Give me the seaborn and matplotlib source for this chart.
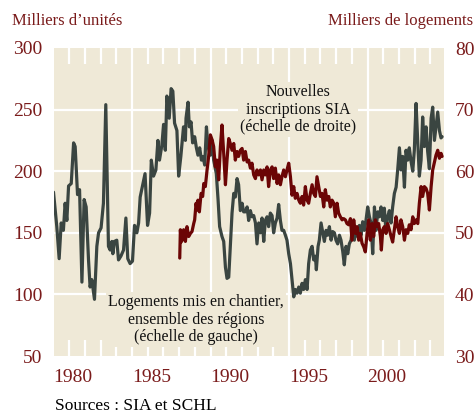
import numpy as np
import pandas as pd
import seaborn as sns
import matplotlib.pyplot as plt

# Logements mis en chantier, ensemble des régions (milliers d'unités, échelle de gauche)
starts_year = [
    1980.00, 1980.21, 1980.36, 1980.49, 1980.63, 1980.74, 1980.85, 1980.96, 1981.13, 1981.28,
    1981.38, 1981.53, 1981.66, 1981.81, 1981.95, 1982.08, 1982.23, 1982.33, 1982.44, 1982.61,
    1982.76, 1982.87, 1983.03, 1983.18, 1983.33, 1983.50, 1983.61, 1983.72, 1983.78, 1983.88,
    1984.03, 1984.14, 1984.29, 1984.46, 1984.61, 1984.73, 1984.88, 1985.03, 1985.16, 1985.31,
    1985.42, 1985.52, 1985.67, 1985.83, 1985.99, 1986.12, 1986.23, 1986.37, 1986.52, 1986.65,
    1986.75, 1986.90, 1987.01, 1987.12, 1987.22, 1987.37, 1987.49, 1987.60, 1987.71, 1987.86,
    1987.97, 1988.11, 1988.28, 1988.40, 1988.44, 1988.57, 1988.65, 1988.76, 1988.86, 1988.99,
    1989.10, 1989.20, 1989.31, 1989.42, 1989.52, 1989.63, 1989.74, 1989.84, 1989.99, 1990.10,
    1990.20, 1990.37, 1990.48, 1990.58, 1990.73, 1990.84, 1990.95, 1991.05, 1991.16, 1991.26,
    1991.37, 1991.48, 1991.58, 1991.69, 1991.79, 1991.90, 1992.01, 1992.11, 1992.22, 1992.33,
    1992.43, 1992.54, 1992.64, 1992.75, 1992.86, 1992.96, 1993.07, 1993.18, 1993.28, 1993.39,
    1993.49, 1993.60, 1993.70, 1993.81, 1993.92, 1994.02, 1994.13, 1994.24, 1994.34, 1994.45,
    1994.55, 1994.66, 1994.77, 1994.87, 1994.98, 1995.09, 1995.19, 1995.30, 1995.40, 1995.51,
    1995.62, 1995.72, 1995.83, 1995.93, 1996.04, 1996.15, 1996.25, 1996.36, 1996.47, 1996.57,
    1996.68, 1996.74, 1996.85, 1996.93, 1997.04, 1997.14, 1997.25, 1997.36, 1997.46, 1997.57,
    1997.68, 1997.78, 1997.89, 1997.99, 1998.10, 1998.21, 1998.31, 1998.42, 1998.52, 1998.63,
    1998.74, 1998.84, 1998.95, 1999.05, 1999.16, 1999.27, 1999.37, 1999.48, 1999.59, 1999.69,
    1999.80, 1999.90, 2000.01, 2000.12, 2000.22, 2000.33, 2000.44, 2000.54, 2000.65, 2000.75,
    2000.86, 2000.97, 2001.07, 2001.18, 2001.28, 2001.39, 2001.50, 2001.60, 2001.71, 2001.82,
    2001.92, 2002.03, 2002.13, 2002.24, 2002.35, 2002.45, 2002.56, 2002.66, 2002.77, 2002.88,
    2002.98, 2003.09, 2003.20, 2003.30, 2003.41, 2003.51, 2003.62, 2003.73, 2003.83, 2003.94,
    2004.05, 2004.15, 2004.26, 2004.36, 2004.47, 2004.58, 2004.68, 2004.75,
]
starts_value = [
    183, 155, 129, 158, 152, 174, 160, 188, 190, 223,
    220, 181, 185, 110, 177, 171, 128, 106, 112, 96,
    139, 150, 154, 174, 254, 139, 136, 143, 133, 143,
    144, 128, 131, 136, 162, 129, 125, 127, 156, 150,
    158, 179, 188, 198, 156, 166, 209, 196, 201, 225,
    209, 221, 238, 217, 261, 243, 267, 265, 239, 233,
    196, 212, 236, 225, 243, 256, 236, 240, 223, 228,
    219, 213, 219, 209, 212, 205, 236, 220, 213, 225,
    209, 198, 177, 155, 147, 143, 122, 113, 114, 139,
    166, 182, 179, 194, 189, 168, 174, 167, 167, 171,
    160, 168, 163, 164, 158, 141, 158, 150, 162, 143,
    160, 163, 155, 166, 164, 150, 158, 162, 173, 160,
    152, 152, 148, 144, 133, 125, 112, 98, 104, 101,
    106, 101, 109, 104, 112, 104, 125, 136, 139, 128,
    131, 120, 139, 144, 158, 151, 143, 152, 148, 155,
    144, 151, 150, 144, 141, 148, 144, 135, 124, 139,
    133, 141, 144, 155, 144, 154, 147, 156, 148, 159,
    152, 160, 171, 163, 158, 133, 171, 152, 167, 163,
    171, 160, 170, 150, 163, 168, 158, 171, 182, 187,
    201, 219, 201, 212, 187, 217, 209, 219, 208, 200,
    217, 255, 223, 196, 209, 244, 220, 236, 216, 202,
    243, 252, 225, 236, 248, 233, 227, 228,
]

# Nouvelles inscriptions SIA (milliers de logements, échelle de droite)
listings_year = [
    1988.04, 1988.08, 1988.13, 1988.19, 1988.29, 1988.40, 1988.50, 1988.61, 1988.72, 1988.82,
    1988.93, 1988.99, 1989.08, 1989.14, 1989.20, 1989.29, 1989.40, 1989.50, 1989.57, 1989.67,
    1989.78, 1989.88, 1989.99, 1990.10, 1990.20, 1990.31, 1990.41, 1990.52, 1990.63, 1990.73,
    1990.84, 1990.95, 1991.05, 1991.16, 1991.26, 1991.37, 1991.48, 1991.58, 1991.69, 1991.79,
    1991.90, 1992.01, 1992.11, 1992.22, 1992.33, 1992.43, 1992.54, 1992.64, 1992.75, 1992.86,
    1992.96, 1993.07, 1993.18, 1993.28, 1993.39, 1993.49, 1993.60, 1993.70, 1993.81, 1993.92,
    1994.02, 1994.13, 1994.24, 1994.34, 1994.45, 1994.55, 1994.66, 1994.77, 1994.87, 1994.98,
    1995.09, 1995.19, 1995.30, 1995.40, 1995.51, 1995.62, 1995.72, 1995.83, 1995.93, 1996.04,
    1996.15, 1996.25, 1996.36, 1996.47, 1996.57, 1996.68, 1996.78, 1996.89, 1997.00, 1997.10,
    1997.21, 1997.31, 1997.42, 1997.53, 1997.63, 1997.74, 1997.85, 1997.95, 1998.06, 1998.16,
    1998.27, 1998.38, 1998.48, 1998.59, 1998.69, 1998.80, 1998.91, 1999.01, 1999.12, 1999.23,
    1999.33, 1999.44, 1999.54, 1999.65, 1999.76, 1999.86, 1999.97, 2000.07, 2000.18, 2000.29,
    2000.39, 2000.50, 2000.61, 2000.71, 2000.82, 2000.88, 2000.97, 2001.07, 2001.18, 2001.28,
    2001.39, 2001.50, 2001.60, 2001.71, 2001.82, 2001.92, 2002.03, 2002.13, 2002.24, 2002.35,
    2002.45, 2002.56, 2002.66, 2002.77, 2002.88, 2002.98, 2003.09, 2003.20, 2003.30, 2003.41,
    2003.51, 2003.62, 2003.73, 2003.83, 2003.94, 2004.05, 2004.15, 2004.26, 2004.36, 2004.47,
    2004.58, 2004.68, 2004.75,
]
listings_value = [
    45.9, 50.5, 48.5, 48.8, 50.5, 48.6, 51.0, 49.4, 49.9, 50.2,
    51.5, 52.1, 54.8, 53.7, 55.3, 53.4, 56.4, 55.9, 58.0, 57.5,
    60.2, 62.4, 65.9, 65.1, 64.0, 60.7, 61.8, 58.6, 64.0, 67.5,
    62.9, 57.8, 61.8, 65.3, 64.5, 63.4, 64.5, 61.8, 63.2, 62.4,
    63.4, 63.7, 61.8, 63.2, 61.5, 61.8, 60.5, 61.3, 59.4, 58.8,
    60.2, 59.4, 60.2, 58.6, 60.2, 59.4, 60.7, 57.5, 60.2, 60.7,
    58.8, 60.5, 58.0, 59.4, 57.8, 59.1, 60.2, 59.1, 60.2, 61.3,
    59.1, 56.1, 57.5, 55.6, 56.4, 55.3, 54.8, 55.9, 54.5, 57.5,
    55.3, 54.8, 56.4, 57.8, 56.4, 55.9, 59.1, 57.5, 55.9, 56.4,
    54.2, 57.0, 55.3, 55.9, 54.2, 55.3, 54.8, 52.6, 54.8, 53.2,
    52.6, 52.1, 52.3, 52.1, 51.5, 51.3, 52.3, 48.8, 52.1, 49.9,
    51.0, 48.8, 49.9, 48.3, 47.7, 46.9, 49.9, 52.1, 48.8, 51.5,
    49.4, 52.1, 51.0, 51.5, 49.4, 47.2, 50.5, 51.0, 49.9, 51.5,
    50.5, 49.4, 48.5, 50.5, 52.6, 51.0, 49.9, 52.1, 51.0, 48.8,
    50.5, 49.9, 51.3, 50.5, 52.6, 51.5, 52.1, 51.5, 54.8, 57.5,
    55.9, 57.5, 57.2, 56.4, 53.7, 57.5, 60.2, 61.5, 62.6, 63.4,
    62.1, 62.9, 62.4,
]

left_ticks = [50, 100, 150, 200, 250, 300]
right_ticks = [30, 40, 50, 60, 70, 80]
year_labels = [1980, 1985, 1990, 1995, 2000]

cream = '#EFE9D7'
gray = '#3A4541'
red = '#6B0505'
label_red = '#7A1B1B'

sns.set_style('white', {'axes.facecolor': cream})
plt.rcParams['font.family'] = ['Liberation Serif', 'DejaVu Serif']

fig = plt.figure(figsize=(4.76, 4.15), dpi=100)
ax = fig.add_axes([53.5 / 476, 59 / 415, 390.5 / 476, 308 / 415])

# white grid
for v in left_ticks[1:-1]:
    ax.axhline(v, color='white', lw=1.6, zorder=1)
for yr in year_labels[1:]:
    ax.axvline(yr, color='white', lw=1.6, zorder=1)

starts = pd.DataFrame({'year': starts_year, 'value': starts_value})
listings = pd.DataFrame({'year': listings_year, 'value': listings_value})

sns.lineplot(data=starts, x='year', y='value', color=gray, lw=2.3, ax=ax, zorder=3)
ax2 = ax.twinx()
sns.lineplot(data=listings, x='year', y='value', color=red, lw=2.3, ax=ax2, zorder=3)

ax.set_xlim(1980, 2004.87)
ax.set_ylim(50, 300)
ax2.set_ylim(30, 80)

for a in (ax, ax2):
    a.set_xlabel('')
    a.set_ylabel('')
    for s in a.spines.values():
        s.set_visible(False)

ax.set_yticks(left_ticks)
ax.tick_params(axis='y', length=0, labelsize=14, labelcolor=label_red, pad=8)
ax2.set_yticks(right_ticks)
ax2.tick_params(axis='y', length=0, labelsize=14, labelcolor=label_red, pad=8)

ax.set_xticks(year_labels)
ax.set_xticklabels([str(y) for y in year_labels], ha='left')
ax.set_xticks([y for y in range(1981, 2005) if y % 5 != 0], minor=True)
ax.tick_params(axis='x', which='major', length=0, labelsize=14, labelcolor=label_red, pad=9)
ax.tick_params(axis='x', which='minor', direction='in', length=11.5, width=1.6,
               color='white', top=True, bottom=True)

box = dict(facecolor=cream, edgecolor='none', pad=1.5)
ax.text(0.626, 0.80, 'Nouvelles\ninscriptions SIA\n(échelle de droite)',
        transform=ax.transAxes, ha='center', va='center', ma='center',
        fontsize=11.5, linespacing=1.1, color='#111111', bbox=box, zorder=2)
ax.text(0.365, 0.118, 'Logements mis en chantier,\nensemble des régions\n(échelle de gauche)',
        transform=ax.transAxes, ha='center', va='center', ma='center',
        fontsize=11.5, linespacing=1.1, color='#111111', bbox=box, zorder=2)

fig.text(12 / 476, 1 - 21 / 415, 'Milliers d\u2019unités', ha='left', va='center',
         color=label_red, fontsize=12)
fig.text(473 / 476, 1 - 21 / 415, 'Milliers de logements', ha='right', va='center',
         color=label_red, fontsize=12)
fig.text(55 / 476, 1 - 406 / 415, 'Sources : SIA et SCHL', ha='left', va='center',
         color='black', fontsize=12.5)

fig.savefig('out.png', dpi=100)
